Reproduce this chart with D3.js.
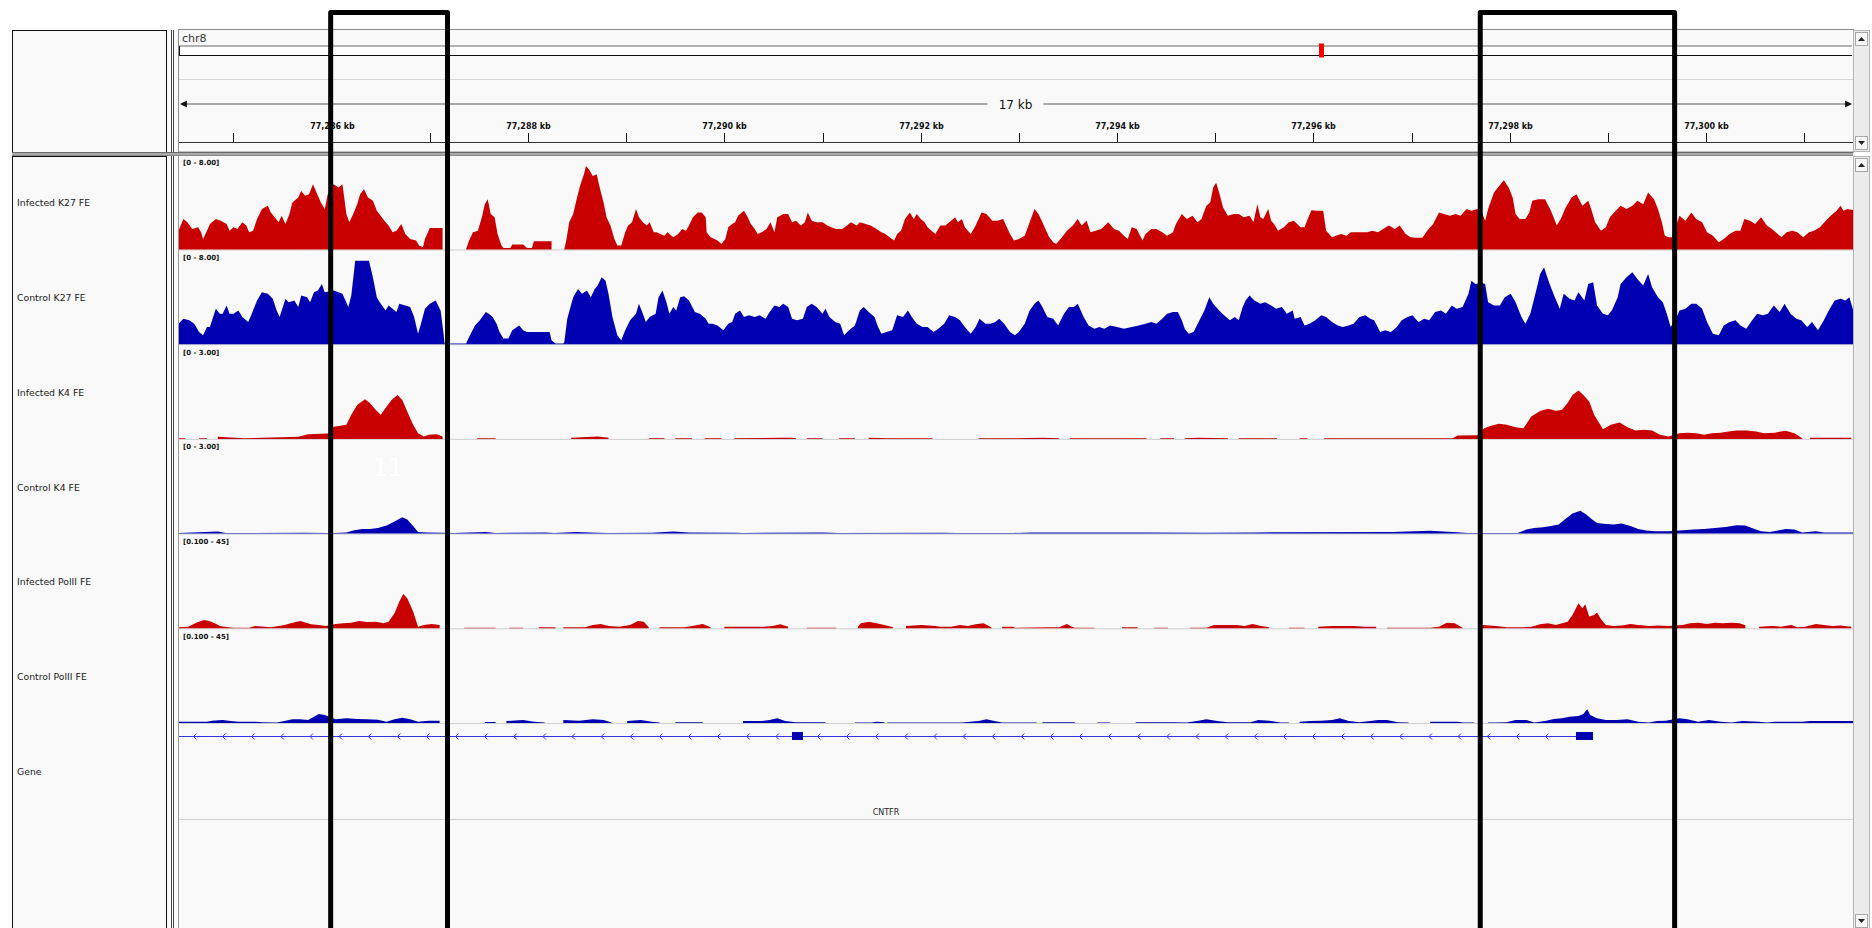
<!DOCTYPE html>
<html><head><meta charset="utf-8">
<script src="https://cdn.jsdelivr.net/npm/d3@7"></script>
<style>
body{margin:0;background:#fff;}
svg{display:block;}
text{font-family:"DejaVu Sans",sans-serif;}
</style>
</head><body>
<svg id="c" width="1872" height="928"></svg>
<script>
// ---------------- data ----------------
const chromName = "chr8";
const viewKb = [77284.445, 77301.497];
const spanLabel = "17 kb";
const tickKb = [77285,77286,77287,77288,77289,77290,77291,77292,77293,77294,77295,77296,77297,77298,77299,77300,77301];
const tickLabels = {77286:"77,286 kb",77288:"77,288 kb",77290:"77,290 kb",77292:"77,292 kb",77294:"77,294 kb",77296:"77,296 kb",77298:"77,298 kb",77300:"77,300 kb"};
const trackNames = ["Infected K27 FE","Control K27 FE","Infected K4 FE","Control K4 FE","Infected PolII FE","Control PolII FE"];
const rangeLabels = ["[0 - 8.00]","[0 - 8.00]","[0 - 3.00]","[0 - 3.00]","[0.100 - 45]","[0.100 - 45]"];
const dataRanges = [[0,8],[0,8],[0,3],[0,3],[0.1,45],[0.1,45]];
const trackColors = ["#c80000","#0000b2","#c80000","#0000b2","#c80000","#0000b2"];

const infK27 = [[77284.44,1.68],[77284.49,2.67],[77284.53,2.39],[77284.58,1.82],[77284.64,1.96],[77284.67,1.54],[77284.69,0.98],[77284.73,1.68],[77284.76,2.25],[77284.82,2.67],[77284.87,2.53],[77284.93,2.25],[77284.96,1.68],[77285.00,1.96],[77285.04,1.82],[77285.09,2.39],[77285.13,2.11],[77285.16,1.54],[77285.20,1.68],[77285.24,2.67],[77285.29,3.51],[77285.35,3.79],[77285.38,3.23],[77285.42,2.81],[77285.46,2.39],[77285.49,2.95],[77285.53,2.25],[77285.57,3.09],[77285.60,4.07],[77285.66,4.49],[77285.69,5.05],[77285.73,4.63],[77285.77,4.77],[77285.81,5.61],[77285.86,4.63],[77285.89,4.07],[77285.93,3.51],[77285.96,4.77],[77286.02,5.61],[77286.07,5.33],[77286.11,5.61],[77286.15,3.09],[77286.18,2.39],[77286.22,3.09],[77286.26,3.93],[77286.29,4.77],[77286.33,5.19],[77286.37,4.49],[77286.42,4.21],[77286.46,3.37],[77286.51,2.81],[77286.55,2.39],[77286.58,2.11],[77286.62,1.54],[77286.66,1.68],[77286.71,2.25],[77286.75,1.40],[77286.80,0.98],[77286.86,0.84],[77286.89,0.42],[77286.93,0.28],[77286.95,0.98],[77287.00,1.91],[77287.13,1.91],[77287.14,null],
[77287.37,0.10],[77287.40,0.84],[77287.44,1.54],[77287.49,1.68],[77287.53,2.81],[77287.56,3.93],[77287.59,4.35],[77287.62,3.09],[77287.66,2.81],[77287.69,1.40],[77287.73,0.42],[77287.75,0.22],[77287.82,0.22],[77287.84,0.51],[77287.95,0.51],[77287.99,0.22],[77288.04,0.22],[77288.06,0.79],[77288.24,0.79],[77288.25,null],
[77288.37,0.10],[77288.39,0.84],[77288.42,2.39],[77288.46,3.09],[77288.50,4.49],[77288.53,5.47],[77288.57,6.46],[77288.59,7.16],[77288.62,6.88],[77288.66,6.32],[77288.70,6.46],[77288.73,5.33],[77288.77,4.07],[77288.80,2.81],[77288.84,2.11],[77288.88,0.98],[77288.91,0.42],[77288.95,0.42],[77288.99,1.54],[77289.02,2.11],[77289.06,2.39],[77289.10,3.51],[77289.13,2.81],[77289.17,2.39],[77289.21,2.11],[77289.24,2.39],[77289.28,1.54],[77289.31,1.54],[77289.35,1.40],[77289.39,1.26],[77289.42,1.54],[77289.48,1.12],[77289.53,1.40],[77289.57,1.82],[77289.61,1.68],[77289.64,2.11],[77289.68,2.81],[77289.73,3.23],[77289.77,3.23],[77289.81,2.81],[77289.82,1.54],[77289.86,1.12],[77289.90,0.98],[77289.93,0.84],[77289.97,0.56],[77290.01,0.98],[77290.04,1.96],[77290.08,2.25],
[77290.11,2.39],[77290.14,2.95],[77290.20,3.37],[77290.23,2.95],[77290.27,2.25],[77290.31,1.82],[77290.34,1.40],[77290.38,1.54],[77290.43,1.82],[77290.47,2.39],[77290.51,1.54],[77290.54,2.81],[77290.60,3.09],[77290.65,3.09],[77290.69,2.39],[77290.73,2.53],[77290.78,2.11],[77290.82,2.39],[77290.85,3.23],[77290.89,2.53],[77290.94,2.39],[77291.00,2.39],[77291.05,2.11],[77291.09,1.96],[77291.14,1.82],[77291.20,1.82],[77291.25,2.11],[77291.29,2.39],[77291.35,2.11],[77291.38,2.39],[77291.44,2.25],[77291.49,2.11],[77291.55,1.82],[77291.60,1.54],[77291.64,1.40],[77291.69,1.07],[77291.73,0.84],[77291.76,1.40],[77291.80,1.68],[77291.84,2.67],[77291.89,3.23],[77291.93,2.67],[77291.96,3.09],[77292.00,2.67],[77292.04,2.39],[77292.07,1.96],[77292.11,1.68],[77292.15,1.40],[77292.20,2.11],[77292.25,2.11],[77292.31,2.53],[77292.35,2.81],[77292.38,2.39],[77292.42,2.67],[77292.45,1.96],[77292.51,1.40],[77292.56,2.11],[77292.62,3.23],[77292.67,3.09],[77292.73,2.53],[77292.78,2.53],[77292.84,2.67],[77292.87,2.11],[77292.91,1.40],[77292.95,0.84],[77293.00,0.98],[77293.06,1.26],[77293.11,2.39],[77293.16,3.51],[77293.20,3.09],[77293.24,2.39],[77293.27,1.82],[77293.31,1.12],[77293.35,0.70],[77293.38,0.56],[77293.44,1.12],[77293.49,1.68],[77293.55,2.11],[77293.60,2.67],[77293.64,2.11],[77293.69,2.53],[77293.73,1.54],[77293.78,1.68],[77293.84,1.82],[77293.91,2.39],[77293.97,1.82],[77294.02,1.68],[77294.07,1.26],[77294.11,0.98],[77294.15,1.96],[77294.20,1.82],[77294.26,0.84],[77294.29,1.40],[77294.35,1.82],[77294.40,1.82],[77294.46,1.54],[77294.51,1.26],[77294.57,1.54],[77294.60,2.25],[77294.66,3.09],[77294.71,2.67],[77294.77,2.95],[77294.82,2.39],[77294.86,2.67],[77294.91,3.79],[77294.95,4.07],[77294.98,5.33],[77295.01,5.75],[77295.04,4.91],[77295.08,3.65],[77295.13,2.95],[77295.19,3.09],[77295.24,3.09],[77295.29,2.81],[77295.35,2.95],[77295.39,2.39],[77295.43,3.93],[77295.46,2.81],[77295.49,2.67],[77295.54,3.51],[77295.57,2.53],[77295.60,2.25],[77295.64,1.68],[77295.70,1.96],[77295.75,2.39],[77295.80,2.53],
[77295.87,1.96],[77295.91,1.96],[77295.95,2.81],[77295.98,3.42],[77296.04,3.37],[77296.10,3.37],[77296.13,1.68],[77296.19,1.12],[77296.23,1.26],[77296.28,1.40],[77296.34,1.26],[77296.38,1.54],[77296.43,1.54],[77296.49,1.54],[77296.55,1.54],[77296.60,1.68],[77296.66,1.54],[77296.71,1.82],[77296.77,2.11],[77296.83,1.82],[77296.88,2.11],[77296.94,1.40],[77296.99,1.12],[77297.05,1.07],[77297.11,1.07],[77297.16,1.68],[77297.22,2.25],[77297.28,3.23],[77297.33,3.09],[77297.39,2.95],[77297.45,3.09],[77297.50,2.95],[77297.56,3.51],[77297.61,3.37],[77297.67,3.51],[77297.71,3.40],[77297.75,2.53],[77297.78,3.51],[77297.84,4.91],[77297.88,5.33],[77297.94,5.95],[77297.99,5.33],[77298.03,4.49],[77298.06,3.09],[77298.10,2.67],[77298.16,2.67],[77298.20,3.23],[77298.23,4.21],[77298.29,4.35],[77298.36,4.35],[77298.42,3.37],[77298.48,2.11],[77298.52,2.67],[77298.57,3.65],[77298.63,4.49],[77298.68,4.77],[77298.74,3.79],[77298.80,4.21],[77298.83,3.51],[77298.87,2.39],[77298.93,1.68],[77298.98,1.96],[77299.02,2.81],[77299.08,3.37],[77299.13,3.79],[77299.19,3.51],[77299.25,3.79],[77299.30,4.21],[77299.36,3.93],[77299.41,4.91],[77299.47,4.35],[77299.51,3.51],[77299.55,2.39],[77299.58,1.26],[77299.62,1.12],[77299.66,1.12],[77299.69,2.00],[77299.73,2.95],[77299.79,2.53],[77299.85,3.23],[77299.90,2.67],[77299.96,2.39],[77300.01,1.54],[77300.07,1.26],[77300.13,0.70],[77300.18,0.98],[77300.24,1.40],[77300.30,1.68],[77300.35,1.68],[77300.39,2.67],[77300.45,2.53],[77300.50,2.25],[77300.56,2.81],[77300.62,2.11],[77300.67,1.82],[77300.71,1.54],[77300.77,1.12],[77300.82,1.54],[77300.88,1.68],[77300.93,1.54],[77300.99,1.12],[77301.05,1.54],[77301.10,1.68],[77301.16,1.96],[77301.22,2.53],[77301.27,2.95],[77301.33,3.37],[77301.37,3.79],[77301.40,3.37],[77301.44,3.51],[77301.50,3.42]];

const ctrlK27 = [[77284.44,1.82],[77284.49,2.25],[77284.55,2.11],[77284.60,1.82],[77284.65,1.12],[77284.69,0.84],[77284.73,1.54],[77284.76,1.54],[77284.82,3.09],[77284.86,2.67],[77284.89,2.67],[77284.93,3.37],[77284.96,2.67],[77285.00,2.67],[77285.05,2.95],[77285.09,2.39],[77285.15,1.96],[77285.18,2.53],[77285.24,3.79],[77285.29,4.49],[77285.35,4.35],[77285.40,3.93],[77285.44,2.95],[77285.47,2.39],[77285.53,3.93],[77285.56,3.65],[77285.62,3.79],[77285.66,3.23],[77285.69,4.21],[77285.75,4.07],[77285.78,3.65],[77285.82,4.49],[77285.86,4.63],[77285.90,5.19],[77285.93,4.49],[77286.02,4.63],[77286.07,4.49],[77286.11,4.35],[77286.17,3.23],[77286.20,4.21],[77286.24,7.16],[77286.31,7.16],[77286.38,7.16],[77286.42,5.75],[77286.46,4.07],[77286.49,3.65],[77286.55,2.95],[77286.58,3.37],[77286.62,3.09],[77286.66,2.81],[77286.69,3.51],[77286.75,3.37],[77286.80,3.23],[77286.84,2.39],[77286.88,0.98],[77286.91,1.82],[77286.95,3.09],[77287.00,3.51],[77287.06,3.79],[77287.11,2.95],[77287.14,0.98],[77287.15,0.08],[77287.36,0.08],[77287.37,0.14],[77287.40,0.70],[77287.46,1.68],[77287.51,2.11],[77287.57,2.81],[77287.60,2.67],[77287.64,2.39],[77287.68,1.82],[77287.71,1.12],[77287.75,0.56],[77287.80,0.56],[77287.84,1.26],[77287.91,1.68],[77287.95,1.26],[77287.99,1.12],[77288.22,1.12],[77288.24,0.42],[77288.28,0.14],[77288.29,0.08],[77288.36,0.08],[77288.37,0.28],[77288.40,2.25],[77288.46,4.07],[77288.51,4.77],[77288.55,4.35],[77288.60,4.63],[77288.64,4.07],[77288.68,4.77],[77288.71,5.05],[77288.75,5.75],[77288.79,5.47],[77288.82,4.35],[77288.86,2.39],[77288.91,0.84],[77288.95,0.42],[77288.99,1.26],[77289.04,2.11],[77289.10,2.67],[77289.13,3.51],[77289.17,2.67],[77289.20,1.96],[77289.24,2.39],[77289.30,2.67],[77289.33,4.07],[77289.37,4.63],[77289.41,3.65],[77289.44,2.67],[77289.48,3.23],[77289.51,2.95],[77289.55,4.07],[77289.59,4.15],[77289.64,3.79],[77289.70,2.81],[77289.75,2.67],[77289.81,2.25],[77289.84,1.82],[77289.88,1.82],[77289.93,1.68],[77289.99,1.26],[77290.04,1.82],[77290.08,1.96],
[77290.11,2.67],[77290.16,2.95],[77290.20,2.39],[77290.25,2.53],[77290.31,2.39],[77290.36,2.53],[77290.42,2.25],[77290.45,2.67],[77290.51,3.37],[77290.56,3.23],[77290.60,3.51],[77290.65,3.23],[77290.69,2.25],[77290.74,2.11],[77290.80,2.25],[77290.84,3.23],[77290.89,3.51],[77290.94,3.23],[77291.00,2.67],[77291.03,3.09],[77291.07,2.39],[77291.13,1.96],[77291.18,1.82],[77291.22,0.84],[77291.27,1.26],[77291.33,1.68],[77291.38,2.95],[77291.42,3.23],[77291.47,2.81],[77291.53,2.39],[77291.56,1.68],[77291.60,0.98],[77291.65,1.12],[77291.71,1.26],[77291.76,2.53],[77291.82,2.39],[77291.87,2.95],[77291.91,2.39],[77291.96,1.82],[77292.02,1.54],[77292.07,1.54],[77292.13,1.12],[77292.18,1.40],[77292.24,1.82],[77292.29,2.53],[77292.35,2.39],[77292.40,2.11],[77292.45,1.54],[77292.51,0.98],[77292.56,1.54],[77292.60,2.25],[77292.66,1.82],[77292.71,1.82],[77292.76,1.96],[77292.80,2.25],[77292.85,1.82],[77292.91,1.12],[77292.96,0.84],[77293.00,1.12],[77293.06,1.82],[77293.11,2.95],[77293.16,3.51],[77293.20,3.79],[77293.24,3.23],[77293.29,2.39],[77293.35,2.25],[77293.40,1.68],[77293.46,2.67],[77293.51,3.23],[77293.56,3.23],[77293.60,3.51],[77293.66,2.39],[77293.71,1.68],[77293.77,1.40],[77293.82,1.54],[77293.87,1.40],[77293.93,1.68],[77294.00,1.54],[77294.07,1.40],[77294.15,1.54],[77294.22,1.68],[77294.29,1.82],[77294.35,1.96],[77294.40,1.82],[77294.46,2.25],[77294.51,2.67],[77294.57,2.81],[77294.62,2.81],[77294.66,2.11],[77294.69,1.40],[77294.73,0.98],[77294.78,1.12],[77294.84,2.11],[77294.89,2.95],[77294.94,4.07],[77294.98,3.51],[77295.04,2.95],[77295.09,2.53],[77295.15,2.11],[77295.20,2.39],[77295.24,2.11],[77295.28,3.23],[77295.31,3.79],[77295.35,4.21],[77295.40,3.79],[77295.46,3.51],[77295.51,3.65],[77295.57,3.37],[77295.62,3.09],[77295.68,3.23],[77295.73,2.67],[77295.79,2.95],
[77295.81,2.25],[77295.87,2.39],[77295.91,1.68],[77295.96,1.82],[77296.02,2.11],[77296.08,2.53],[77296.13,2.39],[77296.19,1.96],[77296.25,1.68],[77296.30,1.54],[77296.36,1.68],[77296.41,1.82],[77296.47,2.39],[77296.53,2.53],[77296.58,2.25],[77296.62,2.11],[77296.68,1.12],[77296.73,1.26],[77296.79,1.12],[77296.85,1.54],[77296.90,2.11],[77296.96,2.39],[77297.01,2.53],[77297.07,1.96],[77297.13,2.25],[77297.18,2.11],[77297.24,2.81],[77297.30,2.95],[77297.35,2.67],[77297.41,3.37],[77297.46,3.09],[77297.52,3.23],[77297.58,4.35],[77297.61,5.47],[77297.65,5.19],[77297.71,5.30],[77297.75,5.19],[77297.78,3.65],[77297.84,3.37],[77297.90,3.37],[77297.95,4.07],[77298.01,4.35],[77298.06,3.65],[77298.12,2.39],[77298.16,1.82],[77298.21,2.67],[77298.27,4.63],[77298.31,6.04],[77298.35,6.60],[77298.40,5.33],[77298.46,4.07],[77298.51,3.09],[77298.55,4.35],[77298.61,3.93],[77298.66,3.79],[77298.70,4.49],[77298.76,3.79],[77298.80,5.19],[77298.85,5.33],[77298.89,3.37],[77298.95,2.67],[77299.00,2.53],[77299.04,2.95],[77299.10,4.07],[77299.13,5.19],[77299.19,5.75],[77299.25,6.18],[77299.30,5.61],[77299.36,5.05],[77299.41,6.04],[77299.45,4.91],[77299.51,4.07],[77299.56,3.65],[77299.60,2.67],[77299.64,1.54],[77299.69,2.20],[77299.73,2.95],[77299.79,3.09],[77299.85,3.51],[77299.90,3.51],[77299.96,3.09],[77300.01,1.96],[77300.07,0.98],[77300.13,0.84],[77300.18,1.68],[77300.24,1.96],[77300.30,2.11],[77300.35,1.68],[77300.41,1.40],[77300.47,2.11],[77300.52,2.67],[77300.58,2.53],[77300.63,2.67],[77300.69,3.37],[77300.75,2.81],[77300.80,3.51],[77300.86,2.67],[77300.92,2.25],[77300.97,2.11],[77301.03,1.54],[77301.08,1.96],[77301.14,1.26],[77301.20,2.11],[77301.25,2.95],[77301.31,3.79],[77301.37,3.93],[77301.42,3.79],[77301.46,4.07],[77301.50,2.95]];

const infK4 = [[77284.43,0.05],[77284.51,0.05],[77284.52,null],[77284.65,0.03],[77284.73,0.03],[77284.74,null],[77284.84,0.10],[77285.11,0.05],[77285.66,0.10],[77285.76,0.18],[77285.96,0.20],[77286.02,0.42],[77286.09,0.45],[77286.15,0.48],[77286.20,0.80],[77286.26,1.11],[77286.34,1.29],[77286.39,1.17],[77286.45,0.95],[77286.50,0.80],[77286.56,1.06],[77286.61,1.27],[77286.67,1.43],[77286.72,1.27],[77286.77,0.90],[77286.83,0.48],[77286.88,0.21],[77286.94,0.11],[77286.99,0.16],[77287.07,0.18],[77287.13,0.11],[77287.14,null],[77287.48,0.03],[77287.67,0.03],[77287.68,null],[77288.44,0.07],[77288.71,0.11],[77288.82,0.07],[77288.83,null],[77289.23,0.03],[77289.39,0.03],[77289.40,null],[77289.50,0.03],[77289.67,0.03],[77289.68,null],[77289.80,0.03],[77289.97,0.03],[77289.98,null],[77290.10,0.04],[77290.57,0.07],[77290.68,0.07],[77290.73,0.04],[77290.74,null],[77290.84,0.03],[77291.00,0.03],[77291.01,null],[77291.17,0.03],[77291.33,0.03],[77291.34,null],[77291.47,0.07],[77291.66,0.05],[77292.12,0.03],[77292.13,null],[77292.59,0.05],[77292.94,0.05],[77292.96,0.03],[77293.24,0.07],[77293.41,0.03],[77293.42,null],[77293.52,0.03],[77294.30,0.03],[77294.31,null],[77294.44,0.03],[77294.58,0.03],[77294.59,null],[77294.69,0.03],[77294.83,0.07],[77295.13,0.03],[77295.14,null],[77295.24,0.03],[77295.63,0.03],[77295.64,null],[77295.86,0.03],[77295.94,0.03],[77295.95,null],[77296.11,0.03],[77296.64,0.03],[77296.72,0.04],[77297.42,0.04],[77297.47,0.14],[77297.67,0.15],[77297.74,0.37],[77297.81,0.45],[77297.89,0.51],[77297.97,0.48],[77298.06,0.40],[77298.14,0.37],[77298.22,0.74],[77298.31,0.92],[77298.39,0.99],[77298.47,0.93],[77298.53,0.95],[77298.59,1.17],[77298.64,1.43],[77298.70,1.57],[77298.75,1.43],[77298.81,1.22],[77298.86,0.80],[77298.95,0.34],[77299.03,0.48],[77299.12,0.55],[77299.20,0.40],[77299.28,0.30],[77299.37,0.32],[77299.45,0.30],[77299.53,0.16],[77299.62,0.11],[77299.73,0.21],[77299.81,0.23],[77299.90,0.21],[77299.98,0.16],[77300.06,0.21],[77300.15,0.23],[77300.23,0.27],[77300.31,0.30],[77300.42,0.30],[77300.51,0.27],[77300.59,0.21],[77300.70,0.23],[77300.81,0.29],[77300.90,0.21],[77300.98,0.05],[77300.99,null],[77301.06,0.07],[77301.48,0.07]];

const ctrlK4 = [[77284.43,0.03],[77284.84,0.10],[77284.92,0.04],[77285.71,0.06],[77285.96,0.04],[77286.02,0.05],[77286.15,0.07],[77286.23,0.14],[77286.31,0.18],[77286.39,0.18],[77286.47,0.21],[77286.56,0.29],[77286.64,0.42],[77286.72,0.55],[77286.77,0.48],[77286.83,0.27],[77286.88,0.08],[77286.97,0.07],[77287.13,0.06],[77287.24,0.03],[77287.57,0.08],[77287.67,0.03],[77288.17,0.07],[77288.27,0.03],[77288.49,0.08],[77288.71,0.06],[77288.82,0.03],[77289.26,0.06],[77289.48,0.10],[77289.64,0.07],[77290.13,0.06],[77290.19,0.04],[77291.00,0.07],[77291.17,0.04],[77292.21,0.06],[77292.37,0.04],[77292.94,0.04],[77293.13,0.07],[77293.68,0.07],[77294.30,0.07],[77294.91,0.06],[77295.41,0.07],[77296.80,0.08],[77297.19,0.12],[77297.42,0.08],[77297.58,0.04],[77297.75,0.05],[77298.08,0.05],[77298.17,0.16],[77298.25,0.21],[77298.34,0.23],[77298.42,0.27],[77298.50,0.32],[77298.56,0.48],[77298.64,0.67],[77298.72,0.76],[77298.78,0.64],[77298.84,0.48],[77298.89,0.37],[77298.98,0.34],[77299.06,0.32],[77299.14,0.35],[77299.23,0.27],[77299.31,0.18],[77299.39,0.13],[77299.48,0.11],[77299.62,0.11],[77299.73,0.13],[77299.87,0.16],[77299.98,0.18],[77300.09,0.21],[77300.20,0.24],[77300.31,0.30],[77300.40,0.29],[77300.48,0.19],[77300.56,0.11],[77300.65,0.08],[77300.73,0.13],[77300.81,0.18],[77300.90,0.16],[77300.98,0.07],[77301.12,0.11],[77301.20,0.07],[77301.51,0.07]];

const infPol = [[77284.43,1.05],[77284.54,1.37],[77284.62,3.27],[77284.70,4.54],[77284.75,4.07],[77284.81,2.96],[77284.86,1.69],[77284.95,1.05],[77285.00,0.42],[77285.16,0.42],[77285.22,1.69],[77285.38,1.05],[77285.52,2.16],[77285.60,3.27],[77285.68,4.07],[77285.74,3.27],[77285.79,2.48],[77285.87,2.16],[77285.94,1.69],[77286.04,2.64],[77286.12,2.96],[77286.20,3.27],[77286.28,4.07],[77286.36,3.59],[77286.45,3.75],[77286.53,2.96],[77286.58,3.75],[77286.64,7.72],[77286.69,13.27],[77286.73,16.92],[77286.77,14.86],[77286.83,8.51],[77286.88,1.37],[77286.94,2.16],[77287.02,2.64],[77287.10,2.16],[77287.14,null],[77287.35,0.58],[77287.67,0.58],[77287.68,null],[77287.81,0.58],[77287.95,0.58],[77287.96,null],[77288.11,1.05],[77288.28,1.05],[77288.29,null],[77288.36,1.05],[77288.58,1.05],[77288.66,2.16],[77288.74,2.64],[77288.82,1.69],[77288.93,1.37],[77289.04,2.16],[77289.12,4.07],[77289.18,3.75],[77289.23,1.05],[77289.24,null],[77289.34,1.05],[77289.59,1.05],[77289.67,1.69],[77289.78,2.64],[77289.86,1.05],[77289.87,null],[77290.00,1.37],[77290.40,1.37],[77290.49,1.69],[77290.57,2.48],[77290.65,1.37],[77290.66,null],[77290.84,0.73],[77291.14,0.73],[77291.15,null],[77291.36,1.37],[77291.39,2.96],[77291.47,3.75],[77291.55,2.96],[77291.63,2.16],[77291.72,1.05],[77291.73,null],[77291.85,1.69],[77292.01,2.16],[77292.15,1.69],[77292.20,1.37],[77292.31,1.37],[77292.40,2.16],[77292.48,1.69],[77292.56,2.48],[77292.64,2.96],[77292.72,1.05],[77292.73,null],[77292.83,1.37],[77292.94,1.37],[77292.96,0.58],[77293.29,1.05],[77293.41,1.05],[77293.49,2.64],[77293.54,1.37],[77293.57,0.58],[77293.77,0.58],[77293.78,null],[77294.05,1.05],[77294.21,1.05],[77294.22,null],[77294.38,0.42],[77294.52,0.42],[77294.53,null],[77294.74,0.73],[77294.91,0.73],[77294.99,2.16],[77295.10,2.16],[77295.22,2.16],[77295.30,1.69],[77295.38,2.64],[77295.47,1.69],[77295.55,1.05],[77295.56,null],[77295.75,0.58],[77295.91,0.58],[77295.92,null],[77296.05,1.37],[77296.19,1.69],[77296.41,1.69],[77296.52,1.37],[77296.64,1.37],[77296.65,null],[77296.75,0.58],[77297.19,0.58],[77297.28,1.37],[77297.36,3.27],[77297.44,2.96],[77297.52,0.58],[77297.53,null],[77297.72,2.16],[77297.86,1.69],[77297.97,1.05],[77298.14,1.05],[77298.22,1.37],[77298.31,2.48],[77298.39,2.96],[77298.47,2.16],[77298.59,3.75],[77298.64,6.92],[77298.70,12.48],[77298.74,10.10],[77298.77,12.00],[77298.81,6.13],[77298.86,6.92],[77298.89,8.04],[77298.93,4.86],[77298.98,2.16],[77299.06,1.69],[77299.14,1.85],[77299.23,2.64],[77299.31,2.16],[77299.42,1.69],[77299.51,1.85],[77299.62,1.69],[77299.76,2.16],[77299.84,2.96],[77299.92,3.27],[77300.01,2.64],[77300.09,3.27],[77300.17,2.96],[77300.26,3.27],[77300.34,2.96],[77300.40,2.00],[77300.41,null],[77300.54,1.37],[77300.67,1.69],[77300.76,1.37],[77300.87,2.16],[77300.93,1.05],[77301.01,1.37],[77301.12,2.64],[77301.20,2.16],[77301.29,1.69],[77301.37,1.85],[77301.48,1.37]];

const ctrlPol = [[77284.43,1.21],[77284.73,1.21],[77284.78,1.69],[77284.89,2.00],[77284.97,1.53],[77285.05,1.21],[77285.22,1.21],[77285.30,0.89],[77285.44,0.73],[77285.52,1.53],[77285.60,2.32],[77285.68,2.32],[77285.76,2.00],[77285.82,3.59],[77285.87,4.86],[77285.93,4.39],[77286.04,2.32],[77286.15,2.80],[77286.26,2.48],[77286.36,2.32],[77286.47,2.16],[77286.56,1.21],[77286.64,2.32],[77286.72,3.12],[77286.80,2.32],[77286.88,1.21],[77286.99,1.69],[77287.10,1.69],[77287.14,null],[77287.56,1.05],[77287.67,1.05],[77287.68,null],[77287.78,1.53],[77287.95,2.00],[77288.06,1.21],[77288.17,0.42],[77288.18,null],[77288.36,2.00],[77288.52,1.69],[77288.66,2.32],[77288.77,2.00],[77288.85,0.73],[77288.86,null],[77289.01,1.53],[77289.15,2.00],[77289.26,1.21],[77289.34,0.73],[77289.35,null],[77289.50,0.89],[77289.78,0.89],[77289.79,null],[77290.19,1.53],[77290.38,1.53],[77290.46,2.00],[77290.54,2.80],[77290.62,1.53],[77290.73,0.89],[77291.03,0.89],[77291.04,null],[77291.33,0.73],[77291.50,0.73],[77291.55,1.21],[77291.63,0.89],[77291.64,null],[77291.66,0.42],[77291.82,0.42],[77291.85,0.73],[77292.42,0.73],[77292.59,1.53],[77292.67,2.32],[77292.75,1.53],[77292.83,0.73],[77292.94,0.73],[77293.18,0.73],[77293.19,null],[77293.24,0.89],[77293.57,0.89],[77293.58,null],[77293.80,0.42],[77293.93,0.42],[77293.95,null],[77294.19,0.89],[77294.58,0.89],[77294.71,0.73],[77294.83,1.69],[77294.91,2.32],[77295.02,1.53],[77295.13,0.89],[77295.36,0.89],[77295.44,2.00],[77295.55,1.69],[77295.66,0.73],[77295.75,0.73],[77295.76,null],[77295.86,1.21],[77295.97,1.53],[77296.08,1.69],[77296.19,2.00],[77296.27,2.80],[77296.36,1.53],[77296.47,0.89],[77296.58,1.53],[77296.66,2.00],[77296.75,2.00],[77296.86,0.89],[77296.97,0.73],[77296.98,null],[77297.19,1.21],[77297.47,1.21],[77297.53,0.73],[77297.64,0.73],[77297.65,null],[77297.78,0.42],[77297.86,0.42],[77297.97,0.89],[77298.06,2.00],[77298.17,2.00],[77298.25,0.73],[77298.36,1.53],[77298.45,2.48],[77298.53,2.80],[77298.61,3.59],[77298.70,3.91],[77298.75,4.86],[77298.79,7.08],[77298.82,4.39],[77298.89,2.80],[77298.98,2.00],[77299.09,2.00],[77299.20,2.32],[77299.31,1.21],[77299.42,0.73],[77299.50,1.53],[77299.59,1.69],[77299.73,2.80],[77299.81,2.32],[77299.92,1.21],[77300.03,2.00],[77300.15,1.21],[77300.26,0.73],[77300.37,1.53],[77300.54,1.21],[77300.62,0.42],[77300.70,1.21],[77300.98,1.21],[77301.06,1.53],[77301.51,1.53]];

const geneName = "CNTFR";
const geneSpanKb = [77270.0, 77298.848];
const geneExonsKb = [[77290.689, 77290.801], [77298.675, 77298.848]];
const highlightKb = [[77285.99, 77287.18], [77297.70, 77299.68]];
const ghostText = "11";

// ---------------- drawing ----------------
const svg = d3.select("#c");
const W = 1872, H = 928;
const X0 = 179, X1 = 1853;
const x = d3.scaleLinear().domain(viewKb).range([X0, X1]);
const panelBg = "#f9f9f9";
const trackTop0 = 155.8, trackH = 94.7;

svg.append("rect").attr("width", W).attr("height", H).attr("fill", "#ffffff");

// name panel
svg.append("rect").attr("x", 12.5).attr("y", 30.5).attr("width", 154).attr("height", 122).attr("fill", panelBg).attr("stroke", "#111");
svg.append("rect").attr("x", 12.5).attr("y", 156.5).attr("width", 154).attr("height", 780).attr("fill", panelBg).attr("stroke", "#111");
// attribute panel
svg.append("rect").attr("x", 167).attr("y", 30).attr("width", 11).attr("height", H - 30).attr("fill", panelBg);
[171.5, 173.5].forEach(lx => svg.append("line").attr("x1", lx).attr("x2", lx).attr("y1", 30).attr("y2", H).attr("stroke", "#444").attr("stroke-width", 1));

// header data panel
svg.append("rect").attr("x", X0 - 0.5).attr("y", 29.5).attr("width", X1 - X0 + 1).attr("height", 122.5).attr("fill", panelBg).attr("stroke", "#8c8c8c");
svg.append("rect").attr("x", 12).attr("y", 152).attr("width", X1 - 12).attr("height", 4).attr("fill", "#a9a9a9");
svg.append("line").attr("x1", 12).attr("x2", X1).attr("y1", 152.5).attr("y2", 152.5).attr("stroke", "#6a6a6a");
svg.append("line").attr("x1", 12).attr("x2", X1).attr("y1", 155.5).attr("y2", 155.5).attr("stroke", "#8a8a8a");

// data panel
svg.append("rect").attr("x", X0 - 0.5).attr("y", 156).attr("width", X1 - X0 + 1).attr("height", H - 156).attr("fill", panelBg);
svg.append("line").attr("x1", X0 - 0.5).attr("x2", X0 - 0.5).attr("y1", 156).attr("y2", H).attr("stroke", "#9a9a9a");

// ---- header: chromosome, ideogram, ruler
svg.append("text").attr("x", 182).attr("y", 41.5).attr("font-size", 11).attr("fill", "#333").text(chromName);
svg.append("rect").attr("x", X0).attr("y", 46).attr("width", X1 - X0 - 1).attr("height", 9).attr("fill", "#ffffff");
svg.append("line").attr("x1", X0).attr("x2", X1 - 1).attr("y1", 46).attr("y2", 46).attr("stroke", "#666");
svg.append("line").attr("x1", X0).attr("x2", X1 - 1).attr("y1", 55.5).attr("y2", 55.5).attr("stroke", "#111");
svg.append("line").attr("x1", X0 + 0.5).attr("x2", X0 + 0.5).attr("y1", 46).attr("y2", 55.5).attr("stroke", "#111");
svg.append("rect").attr("x", 1319).attr("y", 43.5).attr("width", 5).attr("height", 14).attr("fill", "#ff0000");
svg.append("line").attr("x1", X0).attr("x2", X1).attr("y1", 79.5).attr("y2", 79.5).attr("stroke", "#d4d4d4");

const rulerY = 104;
const spanMid = (x(viewKb[0]) + x(viewKb[1])) / 2 - 0.5;
svg.append("line").attr("x1", X0 + 6).attr("x2", spanMid - 28).attr("y1", rulerY).attr("y2", rulerY).attr("stroke", "#555").attr("stroke-width", 1.2);
svg.append("line").attr("x1", spanMid + 28).attr("x2", X1 - 7).attr("y1", rulerY).attr("y2", rulerY).attr("stroke", "#555").attr("stroke-width", 1.2);
svg.append("path").attr("d", `M${X0 + 1},${rulerY} L${X0 + 8},${rulerY - 3.5} L${X0 + 8},${rulerY + 3.5} Z`).attr("fill", "#111");
svg.append("path").attr("d", `M${X1 - 1},${rulerY} L${X1 - 8},${rulerY - 3.5} L${X1 - 8},${rulerY + 3.5} Z`).attr("fill", "#111");
svg.append("text").attr("x", spanMid).attr("y", 108.5).attr("text-anchor", "middle").attr("font-size", 12).attr("fill", "#111").text(spanLabel);

tickKb.forEach(k => {
  const tx = Math.round(x(k)) + 0.5;
  svg.append("line").attr("x1", tx).attr("x2", tx).attr("y1", 133).attr("y2", 142).attr("stroke", "#111");
  if (tickLabels[k]) {
    svg.append("text").attr("x", tx).attr("y", 128.5).attr("text-anchor", "middle").attr("font-size", 8).attr("font-weight", "bold").attr("fill", "#111").text(tickLabels[k]);
  }
});
svg.append("line").attr("x1", X0).attr("x2", X1).attr("y1", 142.5).attr("y2", 142.5).attr("stroke", "#333");

// ---- tracks
const defs = svg.append("defs");
defs.append("clipPath").attr("id", "dclip").append("rect").attr("x", X0).attr("y", 150).attr("width", X1 - X0).attr("height", H - 150);
const dataG = svg.append("g").attr("clip-path", "url(#dclip)");

const tracks = trackNames.map((name, i) => ({
  name, range: dataRanges[i], label: rangeLabels[i], color: trackColors[i],
  data: [infK27, ctrlK27, infK4, ctrlK4, infPol, ctrlPol][i]
}));

tracks.forEach((t, i) => {
  const top = trackTop0 + i * trackH;
  const bot = top + trackH;
  const y = d3.scaleLinear().domain(t.range).range([bot, top + 0.3]).clamp(true);
  dataG.append("line").attr("x1", X0).attr("x2", X1).attr("y1", bot - 0.5).attr("y2", bot - 0.5).attr("stroke", "#cfcfcf");
  const area = d3.area()
    .defined(d => d[1] !== null)
    .x(d => x(d[0]))
    .y0(bot - 1)
    .y1(d => Math.min(y(d[1]), bot - 1.6));
  dataG.append("path").datum(t.data).attr("d", area).attr("fill", t.color);
  svg.append("text").attr("x", 183).attr("y", top + 9.5).attr("font-size", 7).attr("font-weight", "bold").attr("fill", "#111").text(t.label);
  svg.append("text").attr("x", 17).attr("y", (top + bot) / 2 + 3.3).attr("font-size", 9.3).attr("fill", "#1a1a1a").text(t.name);
});

// ---- gene track
const geneY = 736;
const gx0 = Math.max(X0, x(geneSpanKb[0])), gx1 = Math.min(X1, x(geneSpanKb[1]));
dataG.append("line").attr("x1", gx0).attr("x2", gx1).attr("y1", geneY + 0.5).attr("y2", geneY + 0.5).attr("stroke", "#3535e0").attr("stroke-width", 1);
const introns = [];
let prev = gx0;
geneExonsKb.forEach(e => { introns.push([prev, x(e[0])]); prev = x(e[1]); });
introns.forEach(([a, b]) => {
  for (let cx = a + 15.5; cx < b - 4; cx += 29.12) {
    dataG.append("path").attr("d", `M${cx + 2},${geneY - 2.5} L${cx - 1},${geneY + 0.5} L${cx + 2},${geneY + 3.5}`)
      .attr("fill", "none").attr("stroke", "#3535e0").attr("stroke-width", 1);
  }
});
geneExonsKb.forEach(e => {
  dataG.append("rect").attr("x", x(e[0])).attr("y", geneY - 4).attr("width", x(e[1]) - x(e[0])).attr("height", 8).attr("fill", "#0000b2");
});
svg.append("text").attr("x", (gx0 + gx1) / 2).attr("y", 815).attr("text-anchor", "middle").attr("font-size", 8).attr("fill", "#222").text(geneName);
svg.append("line").attr("x1", X0).attr("x2", X1).attr("y1", 819.5).attr("y2", 819.5).attr("stroke", "#cfcfcf");
svg.append("text").attr("x", 17).attr("y", 775).attr("font-size", 9.3).attr("fill", "#1a1a1a").text("Gene");

svg.append("text").attr("x", 388).attr("y", 476).attr("text-anchor", "middle").attr("font-family", "DejaVu Serif").attr("font-size", 24).attr("fill", "#ffffff").text(ghostText);

// ---- scrollbars
function scrollbar(y0, y1) {
  svg.append("rect").attr("x", X1 + 0.5).attr("y", y0 + 0.5).attr("width", 16).attr("height", y1 - y0 - 1).attr("fill", "#ececec").attr("stroke", "#b5b5b5");
  svg.append("rect").attr("x", X1 + 2.5).attr("y", y0 + 2.5).attr("width", 12).attr("height", 13).attr("fill", "#f6f6f6").attr("stroke", "#a8a8a8");
  svg.append("rect").attr("x", X1 + 2.5).attr("y", y1 - 15.5).attr("width", 12).attr("height", 13).attr("fill", "#f6f6f6").attr("stroke", "#a8a8a8");
  const cx = X1 + 8.5;
  svg.append("path").attr("d", `M${cx - 3.5},${y0 + 11} L${cx + 3.5},${y0 + 11} L${cx},${y0 + 7} Z`).attr("fill", "#222");
  svg.append("path").attr("d", `M${cx - 3.5},${y1 - 11} L${cx + 3.5},${y1 - 11} L${cx},${y1 - 7} Z`).attr("fill", "#222");
}
scrollbar(30, 152);
scrollbar(156, H + 2);

// ---- highlight boxes
highlightKb.forEach(([a, b]) => {
  const xa = x(a), xb = x(b);
  svg.append("path").attr("d", `M${xa},${H + 10} L${xa},12.5 L${xb},12.5 L${xb},${H + 10}`)
    .attr("fill", "none").attr("stroke", "#000").attr("stroke-width", 5).attr("stroke-linejoin", "round");
});
</script>
</body></html>
